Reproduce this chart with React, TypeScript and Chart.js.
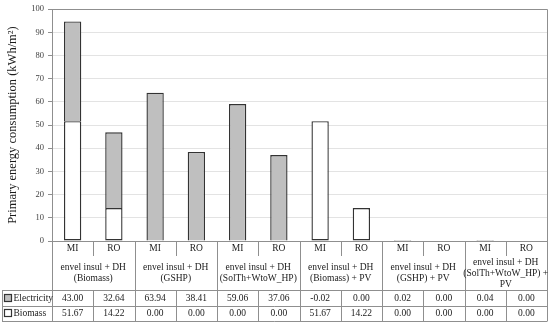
import React, { useEffect, useRef } from "react";
import { Chart, registerables } from "chart.js";

Chart.register(...registerables);

const categories = ["MI", "RO", "MI", "RO", "MI", "RO", "MI", "RO", "MI", "RO", "MI", "RO"];
const groupLabels: string[][] = [
  ["envel insul + DH", "(Biomass)"],
  ["envel insul + DH", "(GSHP)"],
  ["envel insul + DH", "(SolTh+WtoW_HP)"],
  ["envel insul + DH", "(Biomass) + PV"],
  ["envel insul + DH", "(GSHP) + PV"],
  ["envel insul + DH", "(SolTh+WtoW_HP) +", "PV"],
];
const electricity = [43.0, 32.64, 63.94, 38.41, 59.06, 37.06, -0.02, 0.0, 0.02, 0.0, 0.04, 0.0];
const biomass = [51.67, 14.22, 0.0, 0.0, 0.0, 0.0, 51.67, 14.22, 0.0, 0.0, 0.0, 0.0];
const yMin = 0;
const yMax = 100;
const yStep = 10;
const yTitle = "Primary energy consumption (kWh/m\u00B2)";

const FONT = '"Liberation Serif", "DejaVu Serif", serif';
const GRAY = "#bfbfbf";
const EDGE = "#333333";
const LINE = "#8f8f8f";

const tablePlugin = {
  id: "tablePlugin",
  afterDraw(chart: any) {
    const { ctx, chartArea } = chart;
    const xs = chart.scales.x;
    const n = categories.length;
    const colW = (chartArea.right - chartArea.left) / n;
    const L = chartArea.left;
    const R = chartArea.right;
    const top = chartArea.top;
    const b = chartArea.bottom;
    const rLab = b + 15;
    const rTab = b + 49;
    const rMid = b + 64.5;
    const rEnd = b + 80;
    const px = (v: number) => Math.round(v) + 0.5;

    ctx.save();
    ctx.strokeStyle = LINE;
    ctx.lineWidth = 1;
    ctx.beginPath();
    ctx.moveTo(px(L), px(top));
    ctx.lineTo(px(R), px(top));
    ctx.lineTo(px(R), px(b));
    ctx.stroke();

    ctx.beginPath();
    for (let i = 0; i <= n; i++) {
      const x = px(L + i * colW);
      if (i % 2 === 0) {
        ctx.moveTo(x, b);
        ctx.lineTo(x, rEnd);
      } else {
        ctx.moveTo(x, b);
        ctx.lineTo(x, rLab);
        ctx.moveTo(x, rTab);
        ctx.lineTo(x, rEnd);
      }
    }
    ctx.moveTo(px(2), px(rTab));
    ctx.lineTo(px(2), px(rEnd));
    [rTab, rMid, rEnd].forEach((y) => {
      ctx.moveTo(2, px(y));
      ctx.lineTo(R + 0.5, px(y));
    });
    ctx.stroke();

    ctx.fillStyle = "#1a1a1a";
    ctx.textAlign = "center";
    ctx.textBaseline = "middle";
    ctx.font = "9.5px " + FONT;
    categories.forEach((c, i) => {
      const x = xs.getPixelForValue(i);
      ctx.fillText(c, x, b + 7.5);
      ctx.fillText(electricity[i].toFixed(2), x, (rTab + rMid) / 2 + 0.5);
      ctx.fillText(biomass[i].toFixed(2), x, (rMid + rEnd) / 2 + 0.5);
    });
    const lh = 11;
    const midY = (rLab + rTab) / 2;
    groupLabels.forEach((lines, g) => {
      const x = L + (g * 2 + 1) * colW;
      const y0 = midY - ((lines.length - 1) * lh) / 2;
      lines.forEach((t, k) => ctx.fillText(t, x, y0 + k * lh));
    });

    const keys = [
      { label: "Electricity", fill: GRAY, y: (rTab + rMid) / 2 },
      { label: "Biomass", fill: "#ffffff", y: (rMid + rEnd) / 2 },
    ];
    ctx.textAlign = "left";
    keys.forEach((k) => {
      ctx.fillStyle = k.fill;
      ctx.fillRect(5, Math.round(k.y) - 3, 6, 6);
      ctx.strokeStyle = EDGE;
      ctx.lineWidth = 1.2;
      ctx.strokeRect(4.5, Math.round(k.y) - 3.5, 7, 7);
      ctx.fillStyle = "#1a1a1a";
      ctx.fillText(k.label, 13.5, k.y + 0.5);
    });
    ctx.restore();
  },
};

export default function App() {
  const ref = useRef<HTMLCanvasElement | null>(null);
  useEffect(() => {
    document.body.style.margin = "0";
    const canvas = ref.current;
    if (!canvas) return;
    const chart = new Chart(canvas, {
      type: "bar",
      data: {
        labels: categories,
        datasets: [
          {
            label: "Biomass",
            data: biomass,
            backgroundColor: "#ffffff",
            borderColor: EDGE,
            borderWidth: 1.4,
            borderSkipped: false,
            barPercentage: 0.42,
            categoryPercentage: 1,
          },
          {
            label: "Electricity",
            data: electricity,
            backgroundColor: GRAY,
            borderColor: EDGE,
            borderWidth: 1.4,
            borderSkipped: "start",
            barPercentage: 0.42,
            categoryPercentage: 1,
          },
        ],
      },
      options: {
        responsive: false,
        animation: false,
        layout: { padding: { top: 7, right: 3, bottom: 83, left: 0 } },
        plugins: { legend: { display: false }, tooltip: { enabled: false } },
        scales: {
          x: {
            stacked: true,
            ticks: { display: false },
            grid: { display: false },
            border: { display: true, color: LINE, width: 1 },
          },
          y: {
            stacked: true,
            min: yMin,
            max: yMax,
            ticks: { stepSize: yStep, color: "#404040", font: { family: FONT, size: 8.5 }, padding: 4 },
            grid: { color: "#e3e3e3", tickColor: LINE, tickLength: 4 },
            border: { color: LINE, width: 1 },
            title: {
              display: true,
              text: yTitle,
              color: "#1a1a1a",
              font: { family: FONT, size: 12.5 },
              padding: { top: 5, bottom: 0 },
            },
            afterFit: (scale: any) => {
              scale.width = 52;
            },
          },
        },
      },
      plugins: [tablePlugin],
    });
    return () => chart.destroy();
  }, []);
  return <canvas ref={ref} width={550} height={332} style={{ display: "block" }} />;
}
